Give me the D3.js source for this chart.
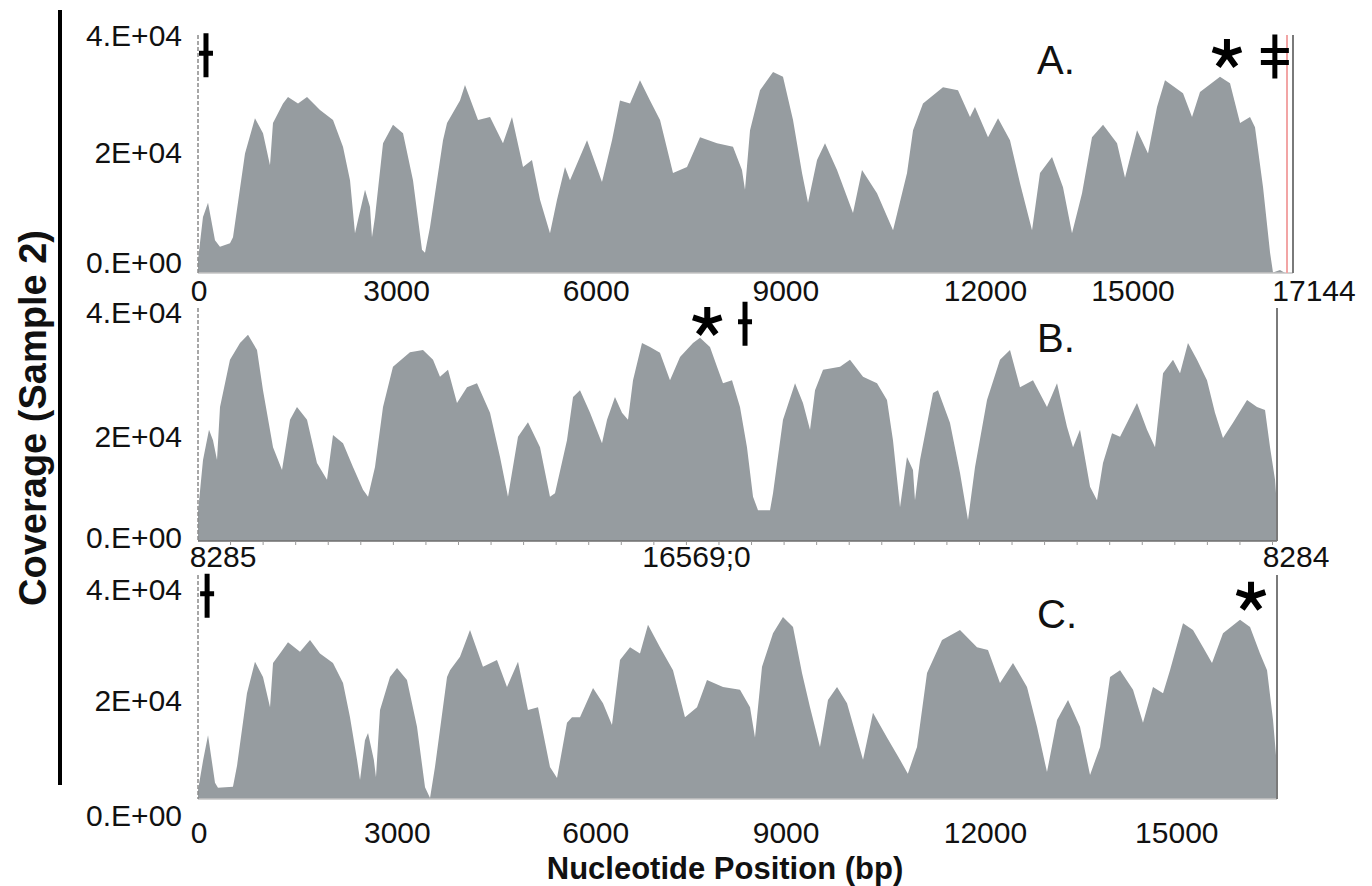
<!DOCTYPE html>
<html lang="en">
<head>
<meta charset="UTF-8">
<title>Coverage (Sample 2)</title>
<script src="https://d3js.org/d3.v7.min.js"></script>
<style>
    body { margin: 0; background: #fff; }
    svg text { font-family: "Liberation Sans", Arial, sans-serif; fill: #111; }
    .cov_area { fill: #969ca0; }
    .tick_label { font-size: 30px; }
    .panel_name { font-size: 40px; }
    .axis_title { font-size: 31px; font-weight: bold; }
</style>
</head>
<body>
<script>
// coverage: position (bp) and depth
const posA = [0,78,157,266,344,501,548,736,892,1018,1127,1174,1331,1409,1566,1707,1910,2114,2270,2380,2458,2505,2615,2693,2724,2771,2897,3053,3210,3366,3507,3554,3632,3836,3899,4102,4180,4384,4572,4775,4916,5089,5229,5355,5511,5621,5746,5824,6091,6325,6482,6607,6764,6920,7077,7234,7437,7656,7860,8126,8376,8517,8564,8643,8799,9003,9159,9316,9457,9551,9692,9817,10005,10255,10396,10631,10882,11101,11195,11351,11664,11899,12087,12165,12369,12526,12713,12870,13058,13183,13371,13543,13684,13841,13997,14170,14389,14514,14702,14874,15015,15140,15422,15563,15688,16001,16158,16315,16471,16549,16675,16785,16831,16941,17020];
const covA = [2200,9400,11800,5500,4400,5000,6000,20100,26000,23500,18100,25200,28500,29600,28500,29600,27400,25700,21200,15600,6700,8900,14000,11100,6000,9400,21800,24900,23500,15600,3900,3400,7700,22300,25200,29000,31600,25700,26200,21800,26200,17800,19000,12300,6700,12300,17800,15600,22300,15300,22300,29000,28500,32400,29000,25700,16800,17800,22800,21800,21200,17300,14000,24000,30700,33800,33000,25700,16800,11800,19000,21800,17300,10100,17300,13400,7200,16800,24000,28500,31200,30700,26200,27900,22800,26000,22300,15100,7200,16800,19500,14400,6700,13400,22800,24900,21800,16000,24000,20100,27900,32400,30200,26200,30400,33000,31900,25200,26200,24500,14400,3400,100,500,0];

// panel B: offset along the rotated reference that starts at 8285
const posB = [0,77,169,230,292,338,491,645,768,906,998,1152,1290,1413,1520,1674,1827,1981,2073,2227,2380,2534,2611,2718,2841,2994,3255,3455,3609,3716,3839,3977,4131,4284,4484,4638,4760,4914,5067,5252,5405,5482,5666,5759,5866,6020,6204,6281,6403,6511,6603,6680,6818,6941,7094,7248,7402,7601,7709,7862,7970,8062,8200,8323,8430,8523,8599,8784,8830,8983,9168,9290,9398,9475,9598,9859,10012,10212,10427,10580,10672,10780,10887,10979,11010,11087,11287,11363,11547,11701,11824,11932,12116,12315,12469,12623,12822,13037,13191,13344,13437,13544,13698,13805,13897,14036,14159,14419,14573,14696,14819,14972,15080,15202,15341,15494,15617,15740,15893,16109,16262,16385,16462,16539,16569];
const covB = [5000,13900,19100,17300,13900,23000,31100,34000,35400,32800,25900,16100,12200,20800,23000,20800,13400,10500,18200,16800,12700,8800,7600,12700,23000,29900,32400,32800,31100,28200,29400,23700,26400,27100,22000,14400,7600,17900,20400,16100,7600,8200,17300,24700,25900,22000,16800,20800,24700,22000,20800,27600,34000,33300,32300,27600,31600,34000,34900,33300,29900,27100,27600,23000,16100,7600,5300,5300,8200,20800,27100,23700,19100,25900,29400,29900,31100,28200,27100,24200,17300,5800,14400,12200,7000,13900,25400,25900,20300,11700,3600,12700,24200,31100,32800,26400,27600,23000,27100,19600,16100,19100,9300,7000,13400,18500,17900,23700,19100,16100,28800,31100,28800,34000,31100,27600,22000,17700,20300,24200,23000,22500,16100,10500,5800];

const posC = [0,80,154,261,307,537,600,752,875,998,1106,1152,1259,1382,1566,1720,1873,2073,2227,2334,2442,2488,2564,2611,2700,2733,2795,2948,3056,3209,3363,3486,3563,3639,3824,3870,4023,4177,4376,4591,4745,4914,5067,5221,5405,5513,5666,5743,5866,6066,6219,6357,6480,6634,6787,6910,7094,7294,7478,7663,7816,8062,8323,8477,8553,8661,8830,8983,9137,9275,9398,9551,9674,9813,9966,10212,10365,10580,10780,10900,11041,11195,11425,11701,11962,12131,12315,12515,12730,12884,13037,13191,13360,13544,13698,13852,14005,14159,14358,14511,14665,14819,14926,15126,15279,15433,15571,15740,16001,16155,16308,16416,16508,16569];
const covC = [1600,7000,11400,2900,2000,2200,6000,18900,24500,21800,16400,24300,26000,28000,26300,28400,26000,24300,20700,14600,7000,3400,10500,11800,7000,3900,15900,21800,23400,21250,12900,2100,200,5700,21800,23000,25400,30200,23600,24800,20000,24500,15900,16400,5700,3750,13600,14600,14600,19800,17100,13200,24800,27100,26000,31100,27100,23000,14600,16400,21250,20000,19500,16400,11000,23600,29600,32500,30700,22500,16400,9300,17700,20000,17100,7000,15400,11000,7000,4500,9300,22500,28400,30200,27100,26600,20700,24300,20000,12900,4800,14100,17700,12900,4300,9300,21800,23000,19500,13600,20000,18900,23000,31400,30200,27100,24300,29600,32000,30700,26000,23000,14100,5700];

const xTicksA = [0, 3000, 6000, 9000, 12000, 15000, 17144];
const xTicksB = [0, 8284, 16569];
const xLabelsB = ['8285', '16569;0', '8284'];
const xTicksC = [0, 3000, 6000, 9000, 12000, 15000];
const yTicks = [0, 20000, 40000];
const yLabels = ['0.E+00', '2E+04', '4.E+04'];

// annotations: panel, symbol, position, height
const markPanel = ['A', 'A', 'A', 'B', 'B', 'C', 'C'];
const markType = ['dagger', 'star', 'ddagger', 'star', 'dagger', 'dagger', 'star'];
const markPos = [125, 16110, 16860, 7820, 8400, 140, 16170];
const markCov = [36600, 36800, 36400, 37600, 37300, 36300, 36100];

const redLineA = 17050;

const panels = [
    { id: 'A', pos: posA, cov: covA, domain: [0, 17144], range: [198, 1293], yr: [273, 35],
      ticks: xTicksA, labels: xTicksA.map(String), dx: [1, 7, 15, 13, 21, -23, 21], labY: 301,
      yDy: [-11, -2, 0], nameY: 74, base: '#c4c4c4', minor: false },
    { id: 'B', pos: posB, cov: covB, domain: [0, 16569], range: [198, 1277], yr: [541, 308],
      ticks: xTicksB, labels: xLabelsB, dx: [25, -41, 19], labY: 567,
      yDy: [-4, 12, 4], nameY: 352, base: '#6e6e6e', minor: true },
    { id: 'C', pos: posC, cov: covC, domain: [0, 16569], range: [198, 1277], yr: [799, 575],
      ticks: xTicksC, labels: xTicksC.map(String), dx: [1, 4, 7, 2, 6, 2], labY: 843,
      yDy: [16, 13, 14], nameY: 628, base: '#c4c4c4', minor: false }
];

const svg = d3.select('body').append('svg')
    .attr('width', 1372)
    .attr('height', 886);

panels.forEach(p => {
    const x = d3.scaleLinear().domain(p.domain).range(p.range);
    const y = d3.scaleLinear().domain([0, 40000]).range(p.yr);
    p.x = x; p.y = y;
    const g = svg.append('g').attr('class', 'panel_' + p.id);

    const area = d3.area()
        .x(i => x(p.pos[i]))
        .y0(y(0))
        .y1(i => y(p.cov[i]));

    g.append('path')
        .datum(d3.range(p.pos.length))
        .attr('class', 'cov_area')
        .attr('d', area);

    // baseline
    g.append('line')
        .attr('x1', p.range[0]).attr('x2', p.range[1])
        .attr('y1', y(0)).attr('y2', y(0))
        .attr('stroke', p.base).attr('stroke-width', 1.5);

    if (p.minor) {
        g.selectAll('.minor_tick')
            .data(d3.range(500, p.domain[1], 500))
            .enter().append('line')
            .attr('x1', d => x(d)).attr('x2', d => x(d))
            .attr('y1', y(0)).attr('y2', y(0) + 4)
            .attr('stroke', '#999').attr('stroke-width', 1);
    }

    // dashed left axis
    g.append('line')
        .attr('x1', p.range[0]).attr('x2', p.range[0])
        .attr('y1', y(40000)).attr('y2', y(0))
        .attr('stroke', '#8a8a8a').attr('stroke-width', 1.5)
        .attr('stroke-dasharray', '4,2');

    // right frame
    g.append('line')
        .attr('x1', p.range[1]).attr('x2', p.range[1])
        .attr('y1', y(40000)).attr('y2', y(0))
        .attr('stroke', '#7a7a7a').attr('stroke-width', 2);

    // y tick labels
    g.selectAll('.ylab')
        .data(yTicks)
        .enter().append('text')
        .attr('class', 'tick_label')
        .attr('text-anchor', 'end')
        .attr('x', 182)
        .attr('y', (d, i) => y(d) + p.yDy[i])
        .attr('dy', '0.35em')
        .text((d, i) => yLabels[i]);

    // x tick labels
    g.selectAll('.xlab')
        .data(p.ticks)
        .enter().append('text')
        .attr('class', 'tick_label')
        .attr('text-anchor', 'middle')
        .attr('x', (d, i) => x(d) + p.dx[i])
        .attr('y', p.labY)
        .text((d, i) => p.labels[i]);

    g.append('text')
        .attr('class', 'panel_name')
        .attr('x', 1037)
        .attr('y', p.nameY)
        .text(p.id + '.');
});

// reference end marker in panel A
const pA = panels[0];
svg.append('line')
    .attr('x1', pA.x(redLineA)).attr('x2', pA.x(redLineA))
    .attr('y1', pA.y(40000)).attr('y2', pA.y(0))
    .attr('stroke', '#f2a5a5').attr('stroke-width', 2);

// annotation symbols
function markPath(type, cx, cy) {
    const p = d3.path();
    if (type === 'star') {
        for (let k = 0; k < 5; k++) {
            const a = (-90 + 72 * k) * Math.PI / 180;
            p.moveTo(cx, cy);
            p.lineTo(cx + 15 * Math.cos(a), cy + 15 * Math.sin(a));
        }
    } else {
        p.moveTo(cx, cy - 22);
        p.lineTo(cx, cy + 22);
        if (type === 'dagger') {
            p.moveTo(cx - 7, cy - 2);
            p.lineTo(cx + 7, cy - 2);
        } else {
            p.moveTo(cx - 14, cy - 6);
            p.lineTo(cx + 14, cy - 6);
            p.moveTo(cx - 14, cy + 6);
            p.lineTo(cx + 14, cy + 6);
        }
    }
    return p.toString();
}

svg.selectAll('.mark')
    .data(d3.range(markPos.length))
    .enter().append('path')
    .attr('class', 'mark')
    .attr('fill', 'none')
    .attr('stroke', '#000')
    .attr('stroke-width', i => markType[i] === 'star' ? 6 : 5)
    .attr('d', i => {
        const p = panels.find(q => q.id === markPanel[i]);
        return markPath(markType[i], p.x(markPos[i]), p.y(markCov[i]));
    });

// titles
svg.append('line')
    .attr('x1', 60).attr('x2', 60)
    .attr('y1', 10).attr('y2', 785)
    .attr('stroke', '#000').attr('stroke-width', 4);

svg.append('text')
    .attr('class', 'axis_title')
    .attr('text-anchor', 'middle')
    .attr('transform', 'translate(46,418) rotate(-90)')
    .style('font-size', '38px')
    .text('Coverage (Sample 2)');

svg.append('text')
    .attr('class', 'axis_title')
    .attr('text-anchor', 'middle')
    .attr('x', 725)
    .attr('y', 879)
    .text('Nucleotide Position (bp)');
</script>
</body>
</html>
